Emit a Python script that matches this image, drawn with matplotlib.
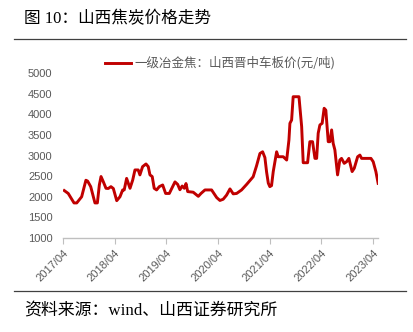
import matplotlib
matplotlib.use("Agg")
import matplotlib.pyplot as plt
import pandas as pd
from matplotlib.lines import Line2D

title = "图 10：山西焦炭价格走势"
source = "资料来源：wind、山西证券研究所"
series_name = "一级冶金焦：山西晋中车板价(元/吨)"

dates = [
    "2017-04-10", "2017-05-08", "2017-06-18", "2017-07-07", "2017-08-11", "2017-09-10",
    "2017-09-22", "2017-10-14", "2017-11-13", "2017-11-30", "2017-12-14", "2017-12-26",
    "2018-01-11", "2018-01-30", "2018-02-15", "2018-03-06", "2018-03-23", "2018-04-16",
    "2018-05-09", "2018-05-28", "2018-06-08", "2018-06-25", "2018-07-19", "2018-08-07",
    "2018-08-23", "2018-09-15", "2018-09-27", "2018-10-16", "2018-11-09", "2018-11-25",
    "2018-12-07", "2018-12-23", "2019-01-06", "2019-01-23", "2019-02-11", "2019-03-07",
    "2019-03-28", "2019-04-23", "2019-05-10", "2019-06-02", "2019-06-21", "2019-07-07",
    "2019-07-23", "2019-08-07", "2019-08-19", "2019-08-31", "2019-10-09", "2019-11-14",
    "2019-12-03", "2019-12-31", "2020-02-16", "2020-03-23", "2020-04-15", "2020-05-08",
    "2020-06-01", "2020-06-25", "2020-07-18", "2020-08-11", "2020-09-15", "2020-10-21",
    "2020-12-06", "2020-12-30", "2021-01-23", "2021-02-11", "2021-02-27", "2021-03-11",
    "2021-03-23", "2021-04-03", "2021-04-15", "2021-04-27", "2021-05-21", "2021-06-01",
    "2021-07-07", "2021-07-31", "2021-08-16", "2021-08-23", "2021-09-04", "2021-09-15",
    "2021-10-26", "2021-11-14", "2021-11-25", "2021-12-26", "2022-01-11", "2022-01-30",
    "2022-02-16", "2022-02-28", "2022-03-11", "2022-03-23", "2022-04-08", "2022-04-22",
    "2022-05-04", "2022-05-21", "2022-06-02", "2022-06-14", "2022-06-25", "2022-07-07",
    "2022-07-26", "2022-08-11", "2022-08-23", "2022-09-11", "2022-09-28", "2022-10-14",
    "2022-11-06", "2022-11-21", "2022-12-15", "2022-12-31", "2023-01-12", "2023-03-19",
    "2023-04-04", "2023-04-23", "2023-05-09",
]
prices = [
    2150, 2080, 1850, 1850, 2000, 2400,
    2380, 2245, 1850, 1850, 2285, 2490,
    2365, 2205, 2200, 2245, 2200, 1905,
    2000, 2165, 2165, 2445, 2205, 2405,
    2650, 2650, 2530, 2730, 2795, 2730,
    2530, 2490, 2205, 2165, 2245, 2285,
    2080, 2080, 2200, 2360, 2300, 2170,
    2260, 2205, 2320, 2125, 2110, 2010,
    2080, 2165, 2165, 1980, 1910, 1940,
    2040, 2190, 2070, 2080, 2165, 2300,
    2485, 2750, 3050, 3090, 2950, 2600,
    2330, 2245, 2270, 2610, 3090, 2970,
    2970, 2890, 3375, 3780, 3860, 4425,
    4425, 3700, 2825, 2825, 3335, 3335,
    2930, 2930, 3540, 3740, 3780, 4145,
    4100, 3335, 3335, 3620, 3295, 3135,
    2530, 2890, 2930, 2810, 2850, 2930,
    2610, 2690, 2970, 3010, 2930, 2930,
    2850, 2610, 2325,
]
tick_dates = ["2017-04-01", "2018-04-01", "2019-04-01", "2020-04-01",
              "2021-04-01", "2022-04-01", "2023-04-01"]
tick_labels = ["2017/04", "2018/04", "2019/04", "2020/04", "2021/04", "2022/04", "2023/04"]
y_ticks = [1000, 1500, 2000, 2500, 3000, 3500, 4000, 4500, 5000]

W, H = 414, 332
fig = plt.figure(figsize=(W / 100, H / 100), dpi=100)
fig.patch.set_facecolor("white")

cjk = ["Noto Sans CJK SC", "DejaVu Sans"]
mixed = ["Liberation Serif", "Noto Sans CJK SC"]

# title and rules
fig.text(24 / W, 1 - 19 / H, title, family=mixed, fontsize=12, color="black",
         va="center", ha="left")
fig.add_artist(Line2D([14 / W, 406 / W], [1 - 39 / H, 1 - 39 / H], color="#404040", lw=0.9))
fig.add_artist(Line2D([14 / W, 406 / W], [1 - 291 / H, 1 - 291 / H], color="#404040", lw=0.9))
fig.text(24 / W, 1 - 311 / H, source, family=mixed, fontsize=12.2, color="black",
         va="center", ha="left")

left, right = 63 / W, 378 / W
bottom, top = 1 - 238 / H, 1 - 73 / H
ax = fig.add_axes([left, bottom, right - left, top - bottom])

x = pd.to_datetime(dates)
ax.plot(x, prices, color="#C00000", lw=2.1, solid_joinstyle="round")

ax.set_ylim(1000, 5000)
ax.set_xlim(pd.Timestamp("2017-04-01"), pd.Timestamp("2023-05-08"))
ax.set_yticks(y_ticks)
ax.set_yticklabels([str(v) for v in y_ticks], family=["Liberation Sans"], fontsize=8,
                   color="#595959")
ax.tick_params(axis="y", length=0, pad=7.5)
ax.set_xticks(pd.to_datetime(tick_dates))
ax.set_xticklabels(tick_labels, rotation=45, ha="right", rotation_mode="anchor",
                   family=["Liberation Sans"], fontsize=8, color="#595959")
ax.tick_params(axis="x", length=4, width=0.8, color="#BFBFBF", pad=3)
for s in ["top", "right", "left"]:
    ax.spines[s].set_visible(False)
ax.spines["bottom"].set_color("#BFBFBF")
ax.spines["bottom"].set_linewidth(1.0)

# legend
fig.add_artist(Line2D([105 / W, 131 / W], [1 - 63 / H, 1 - 63 / H], color="#C00000", lw=2.1))
fig.text(134 / W, 1 - 63 / H, series_name, family=cjk, fontsize=9, color="#595959",
         va="center", ha="left")

fig.savefig("out.png", dpi=100, facecolor="white")
